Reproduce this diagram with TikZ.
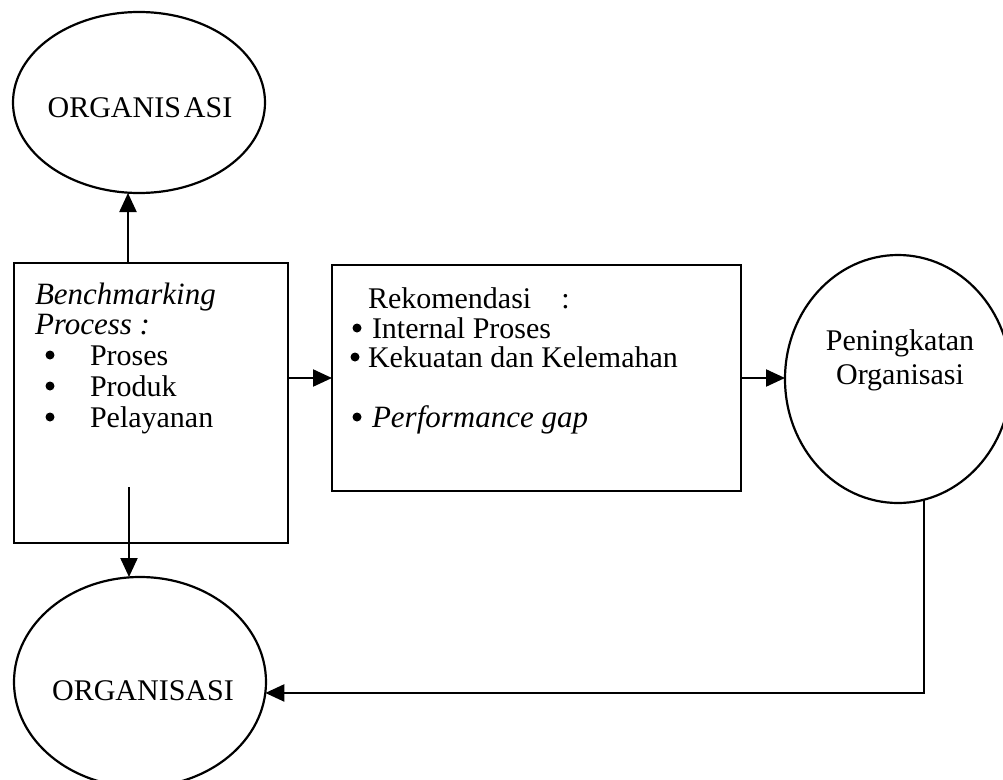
\documentclass[tikz,border=0pt]{standalone}
\usepackage{fontspec}
\setmainfont{Liberation Serif}
\usetikzlibrary{arrows.meta,shapes.geometric,calc}
\begin{document}
\begin{tikzpicture}[x=1pt,y=-1pt,
  every node/.style={inner sep=0pt,outer sep=0pt},
  oval/.style={ellipse,draw,line width=2.2pt,inner sep=0pt},
  frame/.style={draw,line width=2.4pt,inner sep=0pt},
  link/.style={line width=2.2pt},
  arrowlink/.style={link,-{Triangle[length=19pt,width=17pt]}},
  txt/.style={anchor=base west,font=\fontsize{30}{31}\selectfont},
  txtit/.style={anchor=base west,font=\fontsize{31}{31}\selectfont\itshape},
  dot/.style={circle,fill=black,minimum size=9pt},
  ctxt/.style={anchor=base,font=\fontsize{30}{31}\selectfont},
]
\useasboundingbox (0,0) rectangle (1003,779);
\clip (0,0) rectangle (1003,779);

% ---- shapes ----
\node[oval,minimum width=252pt,minimum height=181pt] (orgTop) at (139,102.5) {};
\node[frame,minimum width=274pt,minimum height=280pt] (bench) at (151,403) {};
\node[frame,minimum width=409pt,minimum height=226pt] (rekom) at (536.5,378) {};
\node[oval,minimum width=226pt,minimum height=248pt] (grow) at (898,379) {};
\node[oval,minimum width=252pt,minimum height=210pt] (orgBot) at (140,682) {};

% ---- labels ----
\node[ctxt] (orgTopLbl) at (140,117) {ORGANIS\kern3pt ASI};
\node[ctxt] (orgBotLbl) at (143,700) {ORGANISASI};
\node[ctxt] (growLbl1) at (900,350) {Peningkatan};
\node[ctxt] (growLbl2) at (900,384) {Organisasi};

% benchmarking box contents
\node[txtit] (bTitle1) at (35,304) {Benchmarking};
\node[txtit] (bTitle2) at (35,334) {Process :};
\node[dot] (bDot1) at (50,355) {};
\node[txt] (bItem1) at (90,365) {Proses};
\node[dot] (bDot2) at (50,386) {};
\node[txt] (bItem2) at (90,396) {Produk};
\node[dot] (bDot3) at (50,417) {};
\node[txt] (bItem3) at (90,427) {Pelayanan};

% recommendation box contents
\node[txt] (rTitle) at (368,308) {Rekomendasi\quad:};
\node[dot] (rDot1) at (357,328) {};
\node[txt] (rItem1) at (372,338) {Internal Proses};
\node[dot] (rDot2) at (355,357) {};
\node[txt] (rItem2) at (368,367) {Kekuatan dan Kelemahan};
\node[dot] (rDot3) at (357,417) {};
\node[txtit] (rItem3) at (372,427) {Performance gap};

% ---- connectors ----
\coordinate (upFoot) at ($(bench.north west)!0.416!(bench.north east)$);
\draw[arrowlink] (upFoot) -- (upFoot |- orgTop.south);

\coordinate (downFoot) at (129,487);
\draw[arrowlink] (downFoot) -- (downFoot |- orgBot.north);

\draw[arrowlink] (rekom.west -| bench.east) -- (rekom.west);
\draw[arrowlink] (rekom.east) -- (rekom.east -| grow.west);
\draw[arrowlink] (grow.-78) |- (orgBot.-5);
\end{tikzpicture}
\end{document}
